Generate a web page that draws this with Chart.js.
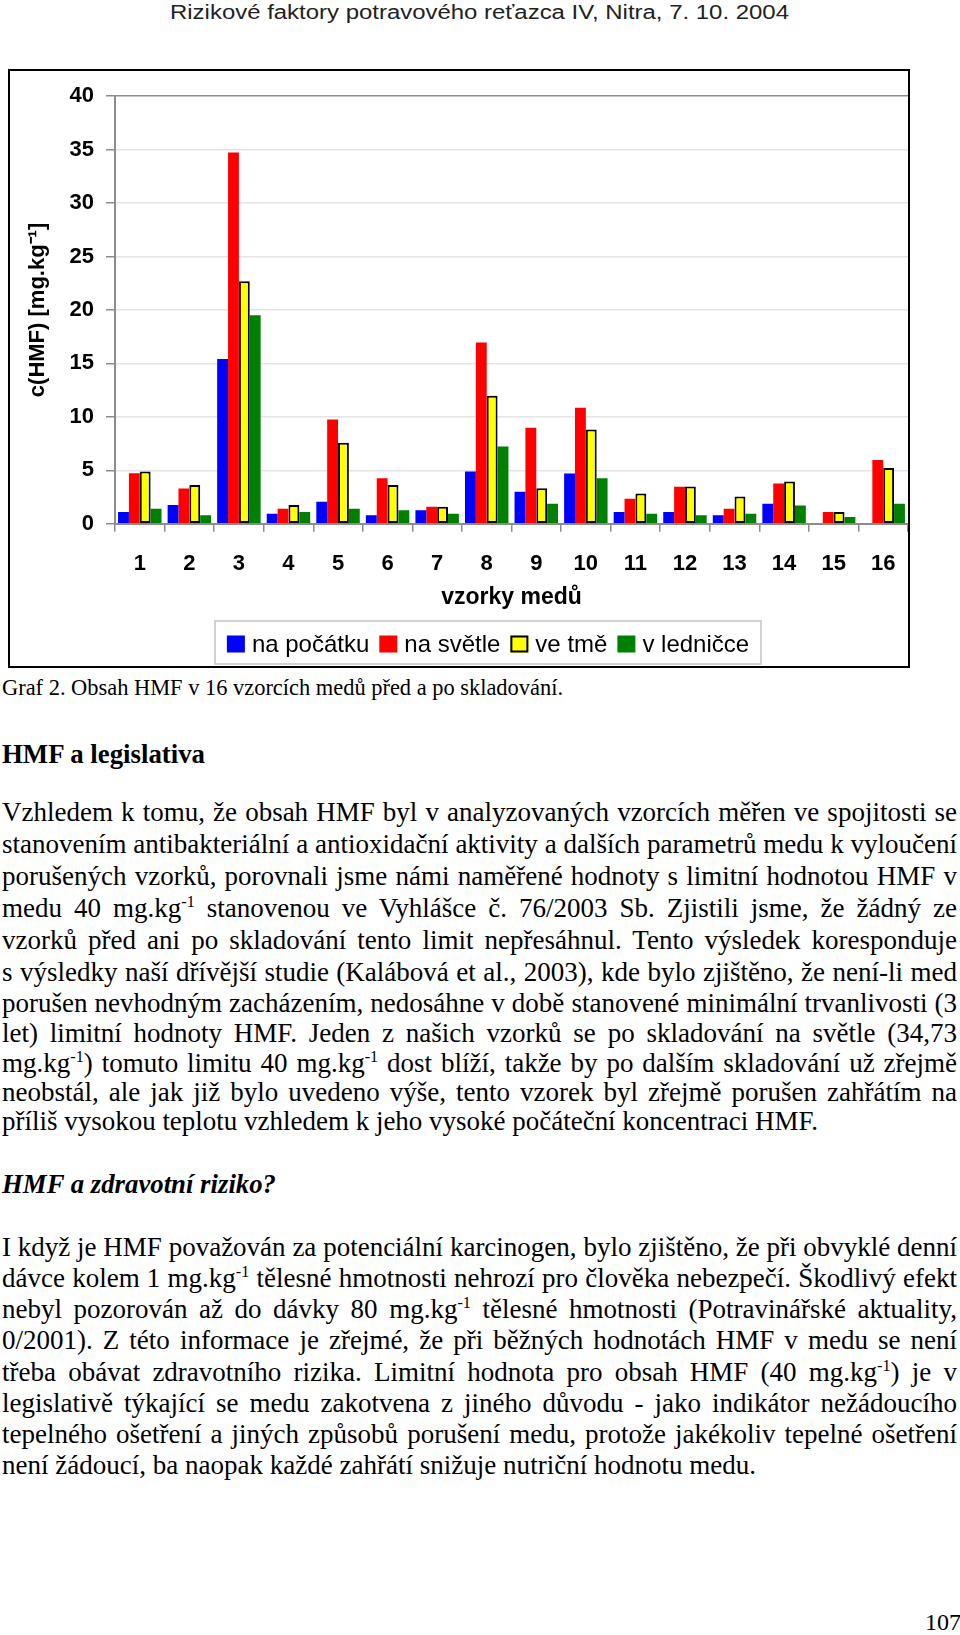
<!DOCTYPE html>
<html lang="cs">
<head>
<meta charset="utf-8">
<title>Obsah HMF v 16 vzorcích medů</title>
<script src="https://cdn.jsdelivr.net/npm/chart.js@4.4.0/dist/chart.umd.min.js"></script>
<style>
  html, body { margin: 0; padding: 0; background: #fff; }
  body { width: 960px; height: 1635px; position: relative; overflow: hidden; font-family: "Liberation Serif", "Times New Roman", serif; color: #000; }
  #header { position: absolute; top: 1px; left: 170px; font-family: "Liberation Sans", Arial, sans-serif; font-size: 20px; color: #222; white-space: nowrap; }
  #chartBox { position: absolute; left: 8px; top: 69px; width: 902px; height: 599px; border: 2px solid #000; box-sizing: border-box; }
  #chartBox canvas { display: block; }
  .ln { position: absolute; left: 2px; width: 955px; font-size: 27px; line-height: 32px; white-space: nowrap; }
  .j { text-align: justify; text-align-last: justify; white-space: normal; }
  .fit { width: auto; }
  sup { font-size: 0.6em; line-height: 0; vertical-align: 0.62em; }
  #caption { font-size: 24px; }
  #pageNo { position: absolute; left: 925px; top: 1609px; font-size: 24px; }
</style>
</head>
<body>
<div id="header" class="fitc" data-w="619">Rizikové faktory potravového reťazca IV, Nitra, 7. 10. 2004</div>

<div id="chartBox"><canvas id="chart" width="898" height="595"></canvas></div>

<div id="caption" class="ln fit" data-w="561" style="top:671px">Graf 2. Obsah HMF v 16 vzorcích medů před a po skladování.</div>
<div class="ln fit" data-w="203" style="top:738px"><b>HMF a legislativa</b></div>

<div class="ln j" style="top:796px">Vzhledem k tomu, že obsah HMF byl v analyzovaných vzorcích měřen ve spojitosti se</div>
<div class="ln j" style="top:828px">stanovením antibakteriální a antioxidační aktivity a dalších parametrů medu k vyloučení</div>
<div class="ln j" style="top:860px">porušených vzorků, porovnali jsme námi naměřené hodnoty s limitní hodnotou HMF v</div>
<div class="ln j" style="top:892px">medu 40 mg.kg<sup>-1</sup> stanovenou ve Vyhlášce č. 76/2003 Sb. Zjistili jsme, že žádný ze</div>
<div class="ln j" style="top:924px">vzorků před ani po skladování tento limit nepřesáhnul. Tento výsledek koresponduje</div>
<div class="ln j" style="top:956px">s výsledky naší dřívější studie (Kalábová et al., 2003), kde bylo zjištěno, že není-li med</div>
<div class="ln j" style="top:987px">porušen nevhodným zacházením, nedosáhne v době stanovené minimální trvanlivosti (3</div>
<div class="ln j" style="top:1017px">let) limitní hodnoty HMF. Jeden z našich vzorků se po skladování na světle (34,73</div>
<div class="ln j" style="top:1047px">mg.kg<sup>-1</sup>) tomuto limitu 40 mg.kg<sup>-1</sup> dost blíží, takže by po dalším skladování už zřejmě</div>
<div class="ln j" style="top:1076px">neobstál, ale jak již bylo uvedeno výše, tento vzorek byl zřejmě porušen zahřátím na</div>
<div class="ln fit" data-w="816" style="top:1105px">příliš vysokou teplotu vzhledem k jeho vysoké počáteční koncentraci HMF.</div>

<div class="ln fit" data-w="274" style="top:1168px"><b><i>HMF a zdravotní riziko?</i></b></div>

<div class="ln j" style="top:1231px">I když je HMF považován za potenciální karcinogen, bylo zjištěno, že při obvyklé denní</div>
<div class="ln j" style="top:1262px">dávce kolem 1 mg.kg<sup>-1</sup> tělesné hmotnosti nehrozí pro člověka nebezpečí. Škodlivý efekt</div>
<div class="ln j" style="top:1293px">nebyl pozorován až do dávky 80 mg.kg<sup>-1</sup> tělesné hmotnosti (Potravinářské aktuality,</div>
<div class="ln j" style="top:1324px">0/2001). Z této informace je zřejmé, že při běžných hodnotách HMF v medu se není</div>
<div class="ln j" style="top:1356px">třeba obávat zdravotního rizika. Limitní hodnota pro obsah HMF (40 mg.kg<sup>-1</sup>) je v</div>
<div class="ln j" style="top:1387px">legislativě týkající se medu zakotvena z jiného důvodu - jako indikátor nežádoucího</div>
<div class="ln j" style="top:1418px">tepelného ošetření a jiných způsobů porušení medu, protože jakékoliv tepelné ošetření</div>
<div class="ln fit" data-w="754" style="top:1449px">není žádoucí, ba naopak každé zahřátí snižuje nutriční hodnotu medu.</div>

<div id="pageNo">107</div>

<script>
// chart data
const categories = ['1', '2', '3', '4', '5', '6', '7', '8', '9', '10', '11', '12', '13', '14', '15', '16'];
const seriesNames = ['na počátku', 'na světle', 've tmě', 'v ledničce'];
const naPocatku = [1.09, 1.74, 15.4, 0.93, 2.05, 0.78, 1.25, 4.88, 2.98, 4.69, 1.09, 1.09, 0.78, 1.86, null, null];
const naSvetle = [4.72, 3.29, 34.73, 1.40, 9.75, 4.26, 1.58, 16.95, 8.97, 10.84, 2.33, 3.45, 1.40, 3.76, 1.09, 5.96];
const veTme = [4.88, 3.63, 22.69, 1.74, 7.58, 3.63, 1.58, 11.98, 3.32, 8.82, 2.83, 3.48, 2.55, 3.95, 1.09, 5.21];
const vLednicce = [1.40, 0.78, 19.5, 1.09, 1.40, 1.25, 0.93, 7.23, 1.86, 4.26, 0.93, 0.78, 0.93, 1.71, 0.62, 1.86];
const yMin = 0, yMax = 40, yStep = 5;

const FONT = '"Liberation Sans", Arial, sans-serif';
Chart.defaults.font.family = FONT;
Chart.defaults.color = '#000';

// framed legend like the Excel one
const legendBox = {
  id: 'legendBox',
  afterDraw(chart, args, o) {
    const ctx = chart.ctx;
    ctx.save();
    ctx.font = o.fontSize + 'px ' + FONT;
    const items = chart.data.datasets.map(ds => ({ ds: ds, w: ctx.measureText(ds.label).width }));
    let total = 0;
    items.forEach((it, i) => { total += o.box + o.gap + it.w + (i ? o.spacing : 0); });
    ctx.strokeStyle = '#c4c4c4';
    ctx.lineWidth = 1.5;
    ctx.strokeRect(o.left, o.top, o.right - o.left, o.bottom - o.top);
    const cy = o.cy;
    let x = (o.left + o.right) / 2 - total / 2;
    ctx.textBaseline = 'middle';
    ctx.textAlign = 'left';
    items.forEach(it => {
      ctx.fillStyle = it.ds.backgroundColor;
      ctx.fillRect(x, cy - o.boxH / 2, o.box, o.boxH);
      if (it.ds.borderWidth) {
        ctx.strokeStyle = it.ds.borderColor;
        ctx.lineWidth = 2;
        ctx.strokeRect(x + 1, cy - o.boxH / 2 + 1, o.box - 2, o.boxH - 2);
      }
      x += o.box + o.gap;
      ctx.fillStyle = '#000';
      ctx.fillText(it.ds.label, x, cy + 1);
      x += it.w + o.spacing;
    });
    ctx.restore();
  }
};

new Chart(document.getElementById('chart'), {
  type: 'bar',
  data: {
    labels: categories,
    datasets: [
      { label: seriesNames[0], data: naPocatku, backgroundColor: '#0000ff', borderWidth: 0 },
      { label: seriesNames[1], data: naSvetle, backgroundColor: '#ff0000', borderWidth: 0 },
      { label: seriesNames[2], data: veTme, backgroundColor: '#ffff00', borderColor: '#000000', borderWidth: 2, borderSkipped: false },
      { label: seriesNames[3], data: vLednicce, backgroundColor: '#008000', borderWidth: 0 }
    ]
  },
  options: {
    responsive: false,
    animation: false,
    devicePixelRatio: 1,
    categoryPercentage: 0.877,
    barPercentage: 1.0,
    layout: { padding: { top: 22.3, right: 0, bottom: 44.3, left: 0 } },
    plugins: {
      legend: { display: false },
      tooltip: { enabled: false },
      legendBox: { left: 205, right: 751, top: 550, bottom: 593, cy: 573, fontSize: 24, box: 18, boxH: 17, gap: 7, spacing: 10 }
    },
    scales: {
      x: {
        grid: { display: true, drawOnChartArea: false, offset: true, tickLength: 8, color: '#8c8c8c', lineWidth: 1.5 },
        border: { color: '#8c8c8c', width: 2 },
        ticks: { font: { size: 22, weight: 'bold' }, padding: 19, maxRotation: 0, autoSkip: false, color: '#000' },
        title: { display: true, text: 'vzorky medů', font: { size: 23, weight: 'bold' }, padding: { top: 0, bottom: 10.5 }, color: '#000' },
        afterFit(s) { s.height = 98; s.paddingLeft = 0; s.paddingRight = 0; }
      },
      y: {
        min: yMin,
        max: yMax,
        ticks: { stepSize: yStep, font: { size: 22, weight: 'bold' }, padding: 12, color: '#000' },
        grid: {
          color: c => (c.tick && c.tick.value === yMax ? '#8c8c8c' : '#e4e4e4'),
          tickColor: '#8c8c8c',
          tickLength: 9,
          lineWidth: 1.5
        },
        border: { color: '#8c8c8c', width: 2 },
        title: { display: true, text: 'c(HMF) [mg.kg⁻¹]', font: { size: 22, weight: 'bold' }, padding: { top: 15, bottom: 0 }, color: '#000' },
        afterFit(s) { s.width = 105; }
      }
    }
  },
  plugins: [legendBox]
});

// squeeze/stretch single lines to the widths in the scan
function fitWidth(el, w) {
  el.style.display = 'inline-block';
  el.style.width = 'auto';
  const nat = el.getBoundingClientRect().width;
  el.style.transformOrigin = 'left top';
  el.style.transform = 'scaleX(' + (w / nat) + ')';
}
document.querySelectorAll('.fit, .fitc').forEach(el => fitWidth(el, +el.dataset.w));
document.querySelectorAll('.j').forEach(el => {
  if (el.getBoundingClientRect().height > 40) {
    el.style.whiteSpace = 'nowrap';
    el.style.textAlignLast = 'left';
    fitWidth(el, 955);
  }
});
</script>
</body>
</html>
